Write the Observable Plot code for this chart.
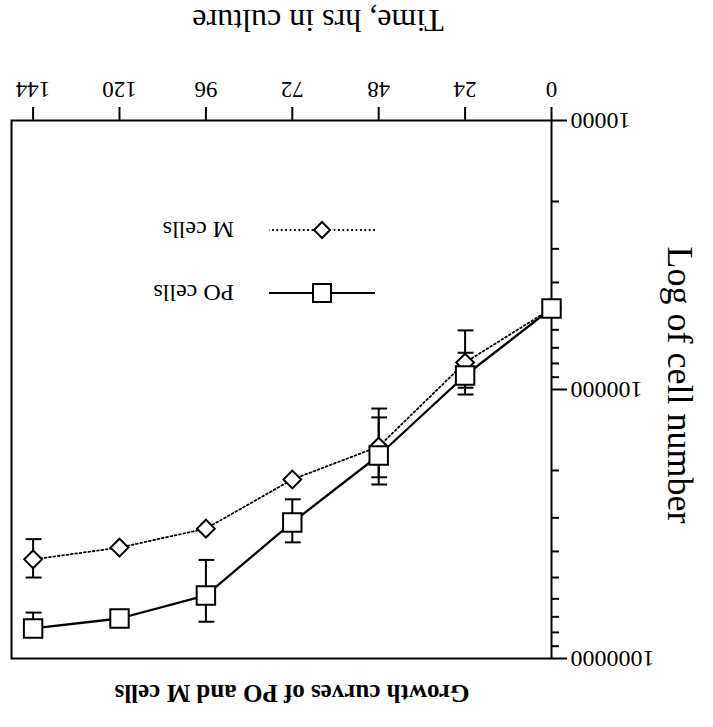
<!DOCTYPE html>
<html>
<head>
<meta charset="utf-8">
<script src="https://cdn.jsdelivr.net/npm/d3@7"></script>
<script src="https://cdn.jsdelivr.net/npm/@observablehq/plot@0.6"></script>
<style>
  html, body { margin: 0; padding: 0; background: #fff; }
  #page {
    position: relative; width: 713px; height: 727px; overflow: hidden;
    transform: rotate(180deg); transform-origin: 50% 50%;
    font-family: "Liberation Serif", "Times New Roman", serif; color: #000; background: #fff;
  }
  .abs { position: absolute; white-space: nowrap; line-height: 1; }
  #title { left: 421px; top: 34px; transform: translate(-50%, -50%); font-weight: bold; font-size: 25px; }
  #xlabel { left: 395px; top: 706px; transform: translate(-50%, -50%); font-size: 32px; }
  #ylabel { left: 33px; top: 342px; transform: translate(-50%, -50%) rotate(-90deg); font-size: 36px; }
  #chart { position: absolute; left: 0; top: 55px; }
  #legend { position: absolute; left: 338px; top: 420px; }
  .item { display: flex; align-items: center; height: 28px; font-size: 24px; white-space: nowrap; }
  .item svg { margin-right: 35px; }
</style>
</head>
<body>
<div id="page">
  <div id="title" class="abs"></div>
  <div id="chart"></div>
  <div id="xlabel" class="abs"></div>
  <div id="ylabel" class="abs"></div>
  <div id="legend"></div>
</div>
<script>
const times = [0, 24, 48, 72, 96, 120, 144];
const poCells = [50000, 88700, 175900, 312000, 583000, 710000, 773000];
const mCells = [50000, 79400, 163000, 216000, 329000, 387000, 428000];
const poLow = [null, 73000, 127000, 256000, 430000, null, 675000];
const poHigh = [null, 104400, 225500, 370000, 730000, null, 830000];
const mLow = [null, 60300, 117700, null, null, null, 360000];
const mHigh = [null, 98500, 212000, null, null, null, 500000];
const seriesNames = ["PO cells", "M cells"];
const xTicks = [0, 24, 48, 72, 96, 120, 144];
const yTicks = [10000, 100000, 1000000];
const yMinorTicks = [20000, 30000, 40000, 50000, 60000, 70000, 80000, 90000,
                     200000, 300000, 400000, 500000, 600000, 700000, 800000, 900000];
const titleText = "Growth curves of PO and M cells";
const xLabel = "Time, hrs in culture";
const yLabel = "Log of cell number";

const rows = times.flatMap((t, i) => [
  {series: seriesNames[0], t, v: poCells[i], lo: poLow[i], hi: poHigh[i]},
  {series: seriesNames[1], t, v: mCells[i], lo: mLow[i], hi: mHigh[i]}
]);
const poRows = rows.filter(d => d.series === seriesNames[0]);
const mRows = rows.filter(d => d.series === seriesNames[1]);
const errs = rows.filter(d => d.lo != null);
const caps = errs.flatMap(d => [{t: d.t, v: d.lo}, {t: d.t, v: d.hi}]);

document.getElementById("title").textContent = titleText;
document.getElementById("xlabel").textContent = xLabel;
document.getElementById("ylabel").textContent = yLabel;

const chart = Plot.plot({
  width: 713, height: 672,
  marginLeft: 161, marginRight: 12, marginTop: 13, marginBottom: 121,
  style: {fontFamily: "'Liberation Serif', 'Times New Roman', serif", fontSize: "23px", color: "#000", background: "#fff", overflow: "visible"},
  x: {domain: [0, 150]},
  y: {type: "log", domain: [10000, 1000000]},
  marks: [
    Plot.frame({stroke: "black", strokeWidth: 2}),
    Plot.axisX({ticks: xTicks, tickSize: 14, tickPadding: 8, strokeWidth: 2, fontSize: 23,
      tickFormat: d => String(d), label: null}),
    Plot.axisY({ticks: yMinorTicks, tickSize: 7, strokeWidth: 2, tickFormat: () => "", label: null}),
    Plot.axisY({ticks: yTicks, tickSize: 15, tickPadding: 4, strokeWidth: 2, fontSize: 24,
      tickFormat: d3.format("d"), label: null}),
    Plot.ruleX(errs, {x: "t", y1: "lo", y2: "hi", stroke: "black", strokeWidth: 2}),
    Plot.ruleY(caps, {y: "v", x1: d => d.t - 2.2, x2: d => d.t + 2.2, stroke: "black", strokeWidth: 2}),
    Plot.line(mRows, {x: "t", y: "v", stroke: "black", strokeWidth: 1.8, strokeDasharray: "1.8,2.6"}),
    Plot.line(poRows, {x: "t", y: "v", stroke: "black", strokeWidth: 2.3}),
    Plot.dot(mRows, {x: "t", y: "v", symbol: "diamond2", r: 8, fill: "white", stroke: "black", strokeWidth: 2}),
    Plot.dot(poRows, {x: "t", y: "v", symbol: "square", r: 10.4, fill: "white", stroke: "black", strokeWidth: 2})
  ]
});
document.getElementById("chart").appendChild(chart);

// legend
const legend = document.getElementById("legend");
const swatches = [
  {name: seriesNames[0], dash: null, marker: "square"},
  {name: seriesNames[1], dash: "1.8,2.6", marker: "diamond"}
];
const ns = "http://www.w3.org/2000/svg";
for (const s of swatches) {
  const item = document.createElement("div");
  item.className = "item";
  const svg = document.createElementNS(ns, "svg");
  svg.setAttribute("width", 106); svg.setAttribute("height", 28);
  const ln = document.createElementNS(ns, "line");
  ln.setAttribute("x1", 0); ln.setAttribute("x2", 106); ln.setAttribute("y1", 14); ln.setAttribute("y2", 14);
  ln.setAttribute("stroke", "black"); ln.setAttribute("stroke-width", s.dash ? 1.8 : 2);
  if (s.dash) ln.setAttribute("stroke-dasharray", s.dash);
  svg.appendChild(ln);
  const m = document.createElementNS(ns, "path");
  m.setAttribute("d", s.marker === "square" ? "M44,5H62V23H44Z" : "M53,6L61,14L53,22L45,14Z");
  m.setAttribute("fill", "white"); m.setAttribute("stroke", "black"); m.setAttribute("stroke-width", 2);
  svg.appendChild(m);
  item.appendChild(svg);
  const lab = document.createElement("span");
  lab.textContent = s.name;
  item.appendChild(lab);
  legend.appendChild(item);
}
legend.children[1].style.marginTop = "35px";
</script>
</body>
</html>
